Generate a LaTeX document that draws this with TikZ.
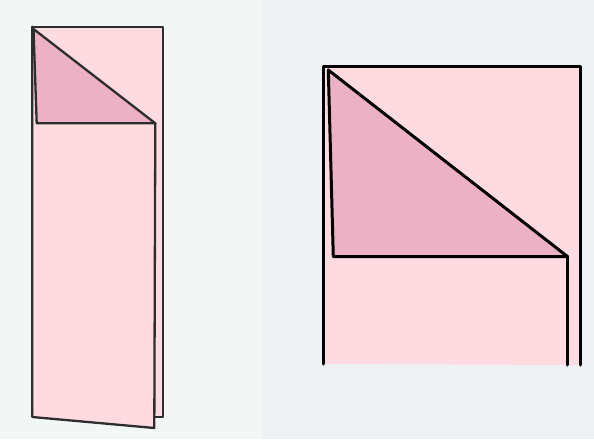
\documentclass[tikz,border=0pt]{standalone}
\definecolor{bgL}{RGB}{242,246,244}
\definecolor{bgR}{RGB}{237,241,243}
\definecolor{paper}{RGB}{253,219,225}
\definecolor{flap}{RGB}{236,177,197}
\definecolor{edgeL}{RGB}{45,45,45}
\tikzset{
  edgeleft/.style={draw=edgeL,line width=2.3pt,line join=round,line cap=round},
  edgeright/.style={draw=black,line width=3pt,line join=round,line cap=round},
}
\begin{document}
\begin{tikzpicture}[x=1pt,y=-1pt]
\useasboundingbox (0,0) rectangle (594,439);
\fill[bgL] (0,0) rectangle (263,439);
\fill[bgR] (263,0) rectangle (594,439);
% ---------- left figure ----------
\coordinate (LA) at (32.3,26.7);
\coordinate (LB) at (162.7,26.7);
\coordinate (LC) at (162.7,417.3);
\coordinate (LD) at (154.3,417.3);
\coordinate (LT) at (33.5,29);
\coordinate (LF) at (36.7,123.3);
\coordinate (LG) at (155.3,123.3);
\coordinate (LE) at (32.3,417);
\coordinate (LK) at (154.3,428);
\fill[paper] (LA) -- (LB) -- (LC) -- (LD) -- (LK) -- (LE) -- cycle;
\fill[flap] (LT) -- (LG) -- (LF) -- cycle;
\draw[edgeleft] (LA) -- (LB) -- (LC) -- (LD);
\draw[edgeleft] (LA) -- (LE) -- (LK) -- (LG);
\draw[edgeleft] (LT) -- (LG) -- (LF) -- cycle;
% ---------- right figure ----------
\coordinate (RA) at (323.3,66.7);
\coordinate (RB) at (580,66.7);
\coordinate (RC) at (580,365);
\coordinate (RE) at (323.3,364);
\coordinate (RT) at (328.3,70);
\coordinate (RF) at (333.3,256.7);
\coordinate (RG) at (567.7,256.7);
\coordinate (RK) at (567.7,365);
\fill[paper] (RA) -- (RB) -- (RC) -- (RE) -- cycle;
\fill[flap] (RT) -- (RG) -- (RF) -- cycle;
\draw[edgeright] (RE) -- (RA) -- (RB) -- (RC);
\draw[edgeright] (RT) -- (RG) -- (RF) -- cycle;
\draw[edgeright] (RG) -- (RK);
\end{tikzpicture}
\end{document}
